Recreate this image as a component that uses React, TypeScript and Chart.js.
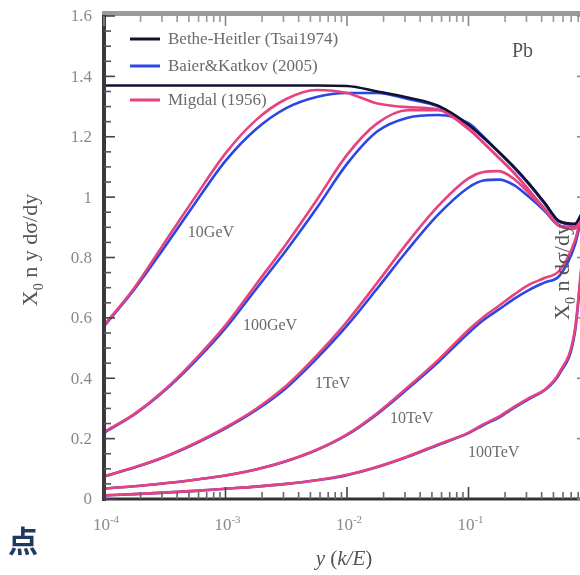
import React, { useEffect, useRef } from 'react';
import { Chart, registerables } from 'chart.js';

Chart.register(...registerables);

// x values: y = k/E (log grid)
const yFrac = [0.0001, 0.000178, 0.000316, 0.000562, 0.001, 0.00178, 0.00316, 0.00562, 0.01, 0.0178, 0.0316, 0.0562, 0.1, 0.133, 0.178, 0.237, 0.316, 0.422, 0.562, 0.75, 0.866, 1];

// Bethe-Heitler (Tsai 1974)
const betheHeitler = [1.37, 1.37, 1.37, 1.37, 1.37, 1.37, 1.37, 1.37, 1.368, 1.35, 1.33, 1.303, 1.24, 1.197, 1.15, 1.1, 1.044, 0.982, 0.92, 0.912, 0.95, 0.99];

// Migdal (1956)
const migdal10GeV = [0.575, 0.7, 0.85, 1.0, 1.145, 1.255, 1.325, 1.355, 1.345, 1.31, 1.298, 1.29, 1.225, 1.18, 1.13, 1.08, 1.022, 0.962, 0.905, 0.898, 0.94, 0.985];
const migdal100GeV = [0.222, 0.282, 0.362, 0.462, 0.575, 0.71, 0.845, 0.99, 1.14, 1.245, 1.288, 1.288, 1.228, 1.18, 1.13, 1.08, 1.022, 0.962, 0.905, 0.898, 0.94, 0.985];
const migdal1TeV = [0.075, 0.105, 0.14, 0.185, 0.237, 0.298, 0.375, 0.475, 0.588, 0.717, 0.85, 0.97, 1.062, 1.083, 1.086, 1.06, 1.012, 0.96, 0.905, 0.895, 0.94, 0.985];
const migdal10TeV = [0.035, 0.042, 0.052, 0.064, 0.078, 0.098, 0.126, 0.163, 0.214, 0.285, 0.37, 0.46, 0.56, 0.603, 0.64, 0.677, 0.71, 0.732, 0.757, 0.855, 0.95, 0.995];
const migdal100TeV = [0.012, 0.016, 0.021, 0.027, 0.034, 0.041, 0.05, 0.062, 0.08, 0.107, 0.141, 0.181, 0.22, 0.248, 0.273, 0.305, 0.335, 0.362, 0.42, 0.56, 0.8, 0.98];

// Baier & Katkov (2005)
const baier10GeV = [0.572, 0.695, 0.835, 0.98, 1.12, 1.225, 1.295, 1.332, 1.345, 1.345, 1.325, 1.3, 1.24, 1.197, 1.148, 1.098, 1.042, 0.98, 0.918, 0.91, 0.948, 0.988];
const baier100GeV = [0.22, 0.28, 0.359, 0.456, 0.566, 0.695, 0.824, 0.963, 1.11, 1.218, 1.263, 1.272, 1.245, 1.2, 1.148, 1.098, 1.042, 0.98, 0.918, 0.91, 0.948, 0.988];
const baier1TeV = [0.075, 0.104, 0.139, 0.183, 0.234, 0.294, 0.368, 0.465, 0.574, 0.698, 0.825, 0.942, 1.032, 1.055, 1.058, 1.04, 1.0, 0.955, 0.905, 0.9, 0.945, 0.988];
const baier10TeV = [0.035, 0.042, 0.052, 0.064, 0.078, 0.098, 0.125, 0.162, 0.212, 0.282, 0.365, 0.453, 0.55, 0.593, 0.628, 0.663, 0.693, 0.717, 0.74, 0.84, 0.94, 0.99];
const baier100TeV = [0.012, 0.016, 0.021, 0.027, 0.034, 0.041, 0.05, 0.062, 0.079, 0.106, 0.14, 0.179, 0.218, 0.245, 0.27, 0.302, 0.332, 0.36, 0.415, 0.55, 0.79, 0.97];

const energyLabels = ['10GeV', '100GeV', '1TeV', '10TeV', '100TeV'];
// label anchor (left edge) in data coordinates
const energyLabelX = [0.00049, 0.00139, 0.00546, 0.0226, 0.0991];
const energyLabelY = [0.881, 0.573, 0.381, 0.265, 0.152];

const legendLabels = ['Bethe-Heitler (Tsai1974)', 'Baier&Katkov (2005)', 'Migdal (1956)'];

const xMajorTicks = [0.0001, 0.001, 0.01, 0.1, 1];
const xMajorExp = ['-4', '-3', '-2', '-1', '0'];
const xMinorMult = [2, 3, 4, 5, 6, 7, 8, 9];
const yMajorTicks = [0, 0.2, 0.4, 0.6, 0.8, 1, 1.2, 1.4, 1.6];
const yMajorLabels = ['0', '0.2', '0.4', '0.6', '0.8', '1', '1.2', '1.4', '1.6'];
const yMinorTicks = [0.05, 0.1, 0.15, 0.25, 0.3, 0.35, 0.45, 0.5, 0.55, 0.65, 0.7, 0.75, 0.85, 0.9, 0.95, 1.05, 1.1, 1.15, 1.25, 1.3, 1.35, 1.45, 1.5, 1.55];

const BH_COLOR = '#12122e';
const BK_COLOR = '#2a46e4';
const MIG_COLOR = '#e6427e';
const SERIF = '"Liberation Serif", "DejaVu Serif", "Times New Roman", serif';

type Part = { t: string; sub?: boolean; sup?: boolean; it?: boolean };

function partFont(p: Part, size: number) {
  const s = p.sub || p.sup ? Math.round(size * 0.65) : size;
  return (p.it ? 'italic ' : '') + s + 'px ' + SERIF;
}

function drawParts(ctx: CanvasRenderingContext2D, parts: Part[], x: number, y: number, size: number, align: 'left' | 'center' | 'right') {
  let total = 0;
  for (const p of parts) {
    ctx.font = partFont(p, size);
    total += ctx.measureText(p.t).width;
  }
  let cx = align === 'left' ? x : align === 'center' ? x - total / 2 : x - total;
  ctx.textAlign = 'left';
  ctx.textBaseline = 'alphabetic';
  for (const p of parts) {
    ctx.font = partFont(p, size);
    const dy = p.sub ? size * 0.25 : p.sup ? -size * 0.42 : 0;
    ctx.fillText(p.t, cx, y + dy);
    cx += ctx.measureText(p.t).width;
  }
}

const framePlugin = {
  id: 'frame',
  afterDraw(chart: any) {
    const { ctx, chartArea: a, scales } = chart;
    const xs = scales.x;
    const ys = scales.y;
    ctx.save();

    // frame lines
    ctx.fillStyle = '#9a9a9a';
    ctx.fillRect(a.left - 2, a.top - 5, a.right - a.left + 4, 5);
    ctx.fillStyle = '#3a3a3a';
    ctx.fillRect(a.left - 2, a.top - 1, 4, a.bottom - a.top + 3);
    ctx.fillStyle = '#333';
    ctx.fillRect(a.left - 2, a.bottom - 1.5, a.right - a.left + 4, 3);
    ctx.fillStyle = '#888';
    ctx.fillRect(a.right - 2, a.top - 1, 3, a.bottom - a.top + 2);

    // x ticks (bottom & top), inward
    ctx.lineWidth = 1.6;
    for (let d = 0; d < xMajorTicks.length; d++) {
      const px = xs.getPixelForValue(xMajorTicks[d]);
      ctx.strokeStyle = '#444';
      ctx.beginPath();
      ctx.moveTo(px, a.bottom);
      ctx.lineTo(px, a.bottom - 12);
      ctx.stroke();
      ctx.strokeStyle = '#8a8a8a';
      ctx.beginPath();
      ctx.moveTo(px, a.top);
      ctx.lineTo(px, a.top + 10);
      ctx.stroke();
      if (d < xMajorTicks.length - 1) {
        for (const m of xMinorMult) {
          const mx = xs.getPixelForValue(xMajorTicks[d] * m);
          ctx.strokeStyle = '#666';
          ctx.beginPath();
          ctx.moveTo(mx, a.bottom);
          ctx.lineTo(mx, a.bottom - 7);
          ctx.stroke();
          ctx.strokeStyle = '#999';
          ctx.beginPath();
          ctx.moveTo(mx, a.top);
          ctx.lineTo(mx, a.top + 6);
          ctx.stroke();
        }
      }
    }
    // y ticks (left & right), inward
    for (const v of yMajorTicks) {
      const py = ys.getPixelForValue(v);
      ctx.strokeStyle = '#444';
      ctx.beginPath();
      ctx.moveTo(a.left, py);
      ctx.lineTo(a.left + 11, py);
      ctx.stroke();
      ctx.strokeStyle = '#888';
      ctx.beginPath();
      ctx.moveTo(a.right, py);
      ctx.lineTo(a.right - 13, py);
      ctx.stroke();
    }
    for (const v of yMinorTicks) {
      const py = ys.getPixelForValue(v);
      ctx.strokeStyle = '#555';
      ctx.beginPath();
      ctx.moveTo(a.left, py);
      ctx.lineTo(a.left + 7, py);
      ctx.stroke();
      ctx.strokeStyle = '#999';
      ctx.beginPath();
      ctx.moveTo(a.right, py);
      ctx.lineTo(a.right - 7, py);
      ctx.stroke();
    }

    // tick labels
    ctx.fillStyle = '#8a8a8a';
    ctx.font = '17px ' + SERIF;
    ctx.textAlign = 'right';
    ctx.textBaseline = 'middle';
    yMajorTicks.forEach((v, i) => {
      ctx.fillText(yMajorLabels[i], a.left - 12, ys.getPixelForValue(v) + 1);
    });
    xMajorTicks.forEach((v, i) => {
      drawParts(ctx, [{ t: '10' }, { t: xMajorExp[i], sup: true }], xs.getPixelForValue(v) + 2, a.bottom + 31, 17, 'center');
    });

    // axis titles
    ctx.fillStyle = '#555';
    drawParts(ctx, [{ t: 'y', it: true }, { t: ' (' }, { t: 'k/E', it: true }, { t: ')' }], 344, 565, 21, 'center');
    ctx.save();
    ctx.translate(37, 250);
    ctx.rotate(-Math.PI / 2);
    drawParts(ctx, [{ t: 'X' }, { t: '0', sub: true }, { t: ' n y d\u03c3/dy' }], 0, 0, 22, 'center');
    ctx.restore();

    // neighbouring panel's axis title (partially visible at right)
    ctx.save();
    ctx.fillStyle = '#555';
    ctx.translate(569, 272);
    ctx.rotate(-Math.PI / 2);
    drawParts(ctx, [{ t: 'X' }, { t: '0', sub: true }, { t: ' n d\u03c3/dy' }], 0, 0, 22, 'center');
    ctx.restore();

    // energy labels
    ctx.fillStyle = '#6a6a6a';
    ctx.font = '16px ' + SERIF;
    ctx.textAlign = 'left';
    ctx.textBaseline = 'middle';
    energyLabels.forEach((t, i) => {
      ctx.fillText(t, xs.getPixelForValue(energyLabelX[i]), ys.getPixelForValue(energyLabelY[i]));
    });

    // Pb
    ctx.fillStyle = '#555';
    ctx.font = '20px ' + SERIF;
    ctx.fillText('Pb', xs.getPixelForValue(0.228), ys.getPixelForValue(1.481));

    // legend
    const legColors = [BH_COLOR, BK_COLOR, MIG_COLOR];
    const legY = [39, 66, 100];
    legendLabels.forEach((t, i) => {
      ctx.strokeStyle = legColors[i];
      ctx.lineWidth = 3;
      ctx.beginPath();
      ctx.moveTo(130, legY[i]);
      ctx.lineTo(160, legY[i]);
      ctx.stroke();
      ctx.fillStyle = '#6a6a6a';
      ctx.font = '17px ' + SERIF;
      ctx.textAlign = 'left';
      ctx.textBaseline = 'middle';
      ctx.fillText(t, 168, legY[i] + 1);
    });

    ctx.restore();
  },
};

export default function App() {
  const ref = useRef<HTMLCanvasElement>(null);
  useEffect(() => {
    const canvas = ref.current;
    if (!canvas) return;
    const mk = (label: string, vals: number[], color: string, w: number) => ({
      label,
      data: yFrac.map((x, i) => ({ x, y: vals[i] })),
      borderColor: color,
      backgroundColor: color,
      borderWidth: w,
      pointRadius: 0,
      fill: false,
      cubicInterpolationMode: 'monotone' as const,
    });
    const migdal = [migdal10GeV, migdal100GeV, migdal1TeV, migdal10TeV, migdal100TeV];
    const baier = [baier10GeV, baier100GeV, baier1TeV, baier10TeV, baier100TeV];
    const datasets = [
      mk(legendLabels[0], betheHeitler, BH_COLOR, 2.6),
      ...migdal.map((v, i) => mk(legendLabels[2] + ' ' + energyLabels[i], v, MIG_COLOR, 2.6)),
      ...baier.map((v, i) => mk(legendLabels[1] + ' ' + energyLabels[i], v, BK_COLOR, 2.6)),
    ];
    const chart = new Chart(canvas, {
      type: 'line',
      data: { datasets },
      options: {
        responsive: false,
        animation: false,
        layout: { padding: { left: 0, right: 30, top: 16, bottom: 0 } },
        plugins: { legend: { display: false }, tooltip: { enabled: false } },
        scales: {
          x: {
            type: 'logarithmic',
            min: 0.0001,
            max: 1,
            grid: { display: false },
            border: { display: false },
            ticks: { display: false },
            afterFit: (s: any) => { s.height = 76; },
          },
          y: {
            type: 'linear',
            min: 0,
            max: 1.6,
            grid: { display: false },
            border: { display: false },
            ticks: { display: false },
            afterFit: (s: any) => { s.width = 104; },
          },
        },
      } as any,
      plugins: [framePlugin],
    });
    return () => chart.destroy();
  }, []);

  return (
    <div style={{ position: 'absolute', left: 0, top: 0, width: 580, height: 575, overflow: 'hidden', background: '#fff' }}>
      <canvas ref={ref} width={620} height={575} style={{ display: 'block' }} />
      <span
        style={{
          position: 'absolute',
          left: 8,
          top: 524,
          fontFamily: '"Noto Sans CJK SC", sans-serif',
          fontSize: 30,
          fontWeight: 700,
          lineHeight: 1,
          color: '#1d3a5f',
        }}
      >
        点
      </span>
    </div>
  );
}
